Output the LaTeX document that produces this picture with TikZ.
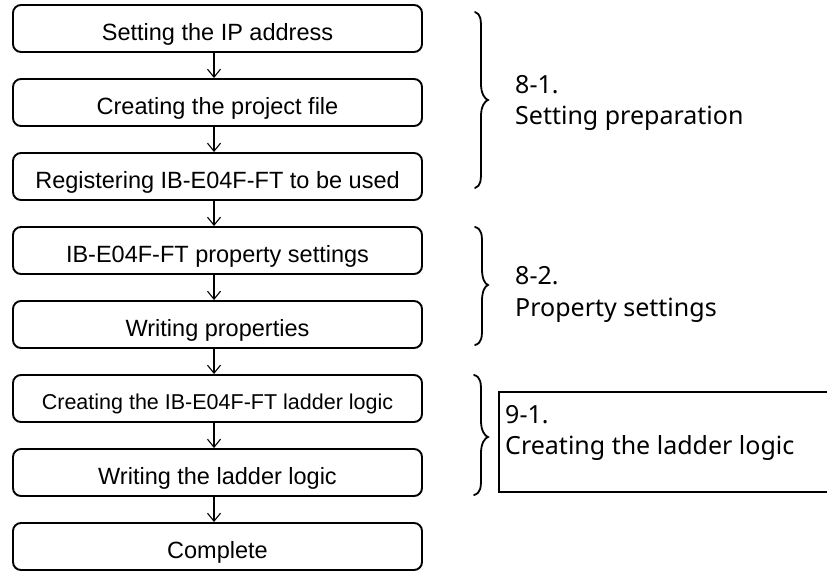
\documentclass[tikz,border=0pt]{standalone}
\usepackage{fontspec}
\setmainfont{Liberation Sans}
\newfontfamily\lblfont{Noto Sans}
\usetikzlibrary{arrows.meta}
\tikzset{
  stepbox/.style={draw, line width=1.9pt, rounded corners=8pt, minimum width=409pt, minimum height=47pt, inner sep=0pt, text height=23pt, text depth=0pt, font=\fontsize{23.5}{28}\selectfont},
  arr/.style={line width=1.1pt, -{Straight Barb[length=8pt,width=13pt,line width=1.1pt]}},
  brc/.style={line width=1.8pt, line cap=round},
  lbl/.style={anchor=base west, inner sep=0pt, font=\lblfont\fontsize{25}{31}\selectfont},
}
\begin{document}
\begin{tikzpicture}[x=1pt,y=-1pt]
\useasboundingbox (0,0) rectangle (827,571);
\fill[white] (0,0) rectangle (827,571);
\node[stepbox] (b1) at (217.5,28.5) {Setting the IP address};
\node[stepbox] (b2) at (217.5,102.5) {Creating the project file};
\node[stepbox] (b3) at (217.5,176.5) {Registering IB-E04F-FT to be used};
\node[stepbox] (b4) at (217.5,250.5) {IB-E04F-FT property settings};
\node[stepbox] (b5) at (217.5,324.5) {Writing properties};
\node[stepbox, font=\fontsize{21.5}{26}\selectfont, text height=22pt] (b6) at (217.5,398.5) {Creating the IB-E04F-FT ladder logic};
\node[stepbox] (b7) at (217.5,472.5) {Writing the ladder logic};
\node[stepbox] (b8) at (217.5,546.5) {Complete};
\coordinate (ax) at (214,0);
\foreach \a/\b in {b1/b2,b2/b3,b3/b4,b4/b5,b5/b6,b6/b7,b7/b8}
  \draw[arr] (\a.south -| ax) -- (\b.north -| ax);
% braces
\draw[brc] (475,12) .. controls (481,14) and (481,20) .. (481,30) -- (481,84)
  .. controls (481,94) and (485,99) .. (488,100)
  .. controls (485,101) and (481,106) .. (481,116) -- (481,170)
  .. controls (481,180) and (481,186) .. (475,188);
\draw[brc] (475,227) .. controls (482,229) and (482,235) .. (482,245) -- (482,269)
  .. controls (482,279) and (485,284) .. (488,285)
  .. controls (485,286) and (482,291) .. (482,301) -- (482,327)
  .. controls (482,337) and (482,343) .. (475,345);
\draw[brc] (474,375) .. controls (481,377) and (481,383) .. (481,393) -- (481,421)
  .. controls (481,431) and (485,436) .. (488,437)
  .. controls (485,438) and (481,443) .. (481,453) -- (481,477)
  .. controls (481,487) and (481,493) .. (474,495);
% labels
\node[lbl] (l1a) at (515,93) {8-1.};
\node[lbl] (l1b) at (515,124) {Setting preparation};
\node[lbl] (l2a) at (515,284) {8-2.};
\node[lbl] (l2b) at (515,316) {Property settings};
\draw[line width=1.9pt] (835,392) -- (499,392) -- (499,492) -- (835,492);
\node[lbl] (l3a) at (505,423) {9-1.};
\node[lbl] (l3b) at (505,454) {Creating the ladder logic};
\end{tikzpicture}
\end{document}
